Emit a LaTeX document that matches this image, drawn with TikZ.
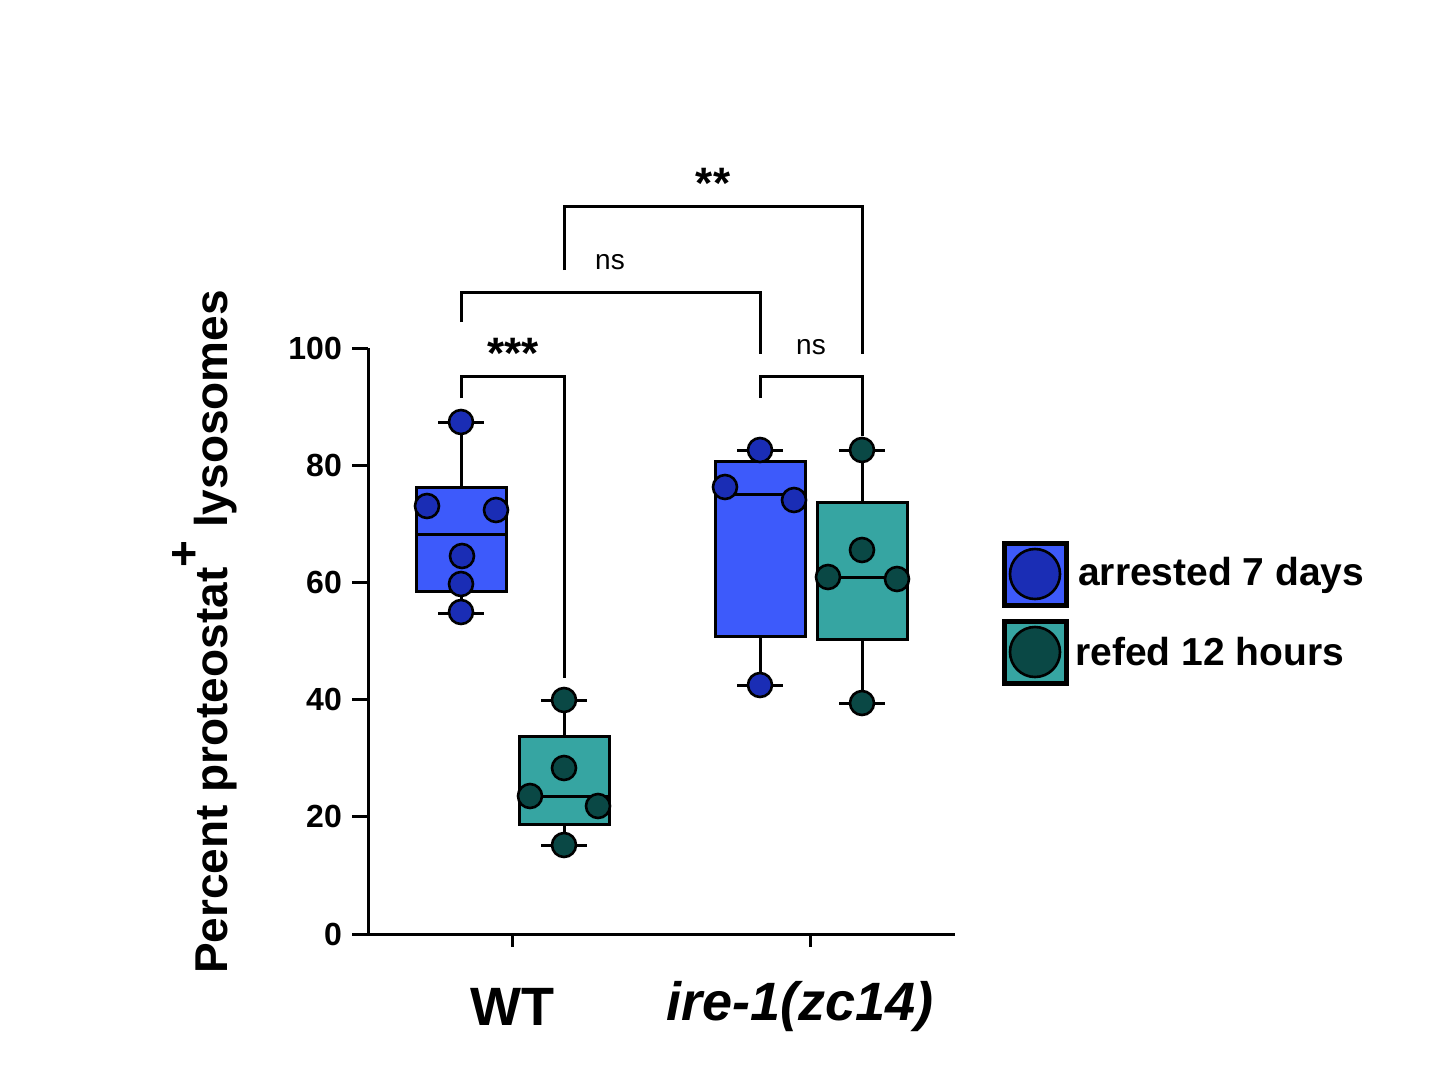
\documentclass[tikz,border=0pt]{standalone}
\usepackage{fontspec}
\setmainfont{Liberation Sans}
\begin{document}
\begin{tikzpicture}[x=0.5pt,y=-0.5pt,line width=1.5pt,
  boxA/.style={draw=black,fill=blueF},
  boxB/.style={draw=black,fill=tealF},
  dotA/.style={circle,draw=black,fill=blueD,minimum size=12pt,inner sep=0pt,line width=1.3pt},
  dotB/.style={circle,draw=black,fill=tealD,minimum size=12pt,inner sep=0pt,line width=1.3pt},
  tl/.style={font=\fontsize{16}{16}\selectfont\bfseries,anchor=east}]
\definecolor{blueF}{HTML}{3D5AFB}\definecolor{blueD}{HTML}{1A2DB5}
\definecolor{tealF}{HTML}{36A5A2}\definecolor{tealD}{HTML}{0A4845}
\useasboundingbox (0,0) rectangle (1433,1072);
% axes
\coordinate (o) at (368,934); \coordinate (ytop) at (368,348); \coordinate (xr) at (955,934);
\draw (ytop) -- (o) -- (xr);
\foreach \v in {0,20,40,60,80,100}{
  \draw (352,{934-5.86*\v}) -- (368,{934-5.86*\v});
  \node[tl] (t\v) at (350,{934-5.86*\v}) {\v};}
\draw (512,934) -- (512,947); \draw (810,934) -- (810,947);
\node[font=\fontsize{27}{27}\selectfont\bfseries] (wt) at (512,1007) {WT};
\node[font=\fontsize{27}{27}\selectfont\bfseries\itshape] (ire) at (800,1007) {ire-1(zc14)};
\node[rotate=90,font=\fontsize{23}{23}\selectfont\bfseries] (yl) at (205,632) {Percent proteostat\raisebox{0.6em}{+} lysosomes};
% boxes: center, q1, q3, med, wlo, whi, halfwidth
\newcommand{\mybox}[8]{%
  \draw (#1,#5) -- (#1,#6);
  \draw ({#1-23},#5) -- ({#1+23},#5); \draw ({#1-23},#6) -- ({#1+23},#6);
  \draw[#8] ({#1-45},#2) rectangle ({#1+45},#3);
  \draw ({#1-45},#4) -- ({#1+45},#4);}
\mybox{461}{591}{487}{534}{613}{422}{45}{boxA}
\mybox{564}{824}{736}{796}{845}{700}{45}{boxB}
\mybox{760}{636}{461}{494}{685}{450}{45}{boxA}
\mybox{862}{639}{502}{577}{703}{450}{45}{boxB}
\foreach \p [count=\i] in {(461,422),(427,506),(496,510),(462,556),(461,584),(461,612),(760,450),(725,487),(794,500),(760,685)}
  \node[dotA] (a\i) at \p {};
\foreach \p [count=\i] in {(564,700),(564,768),(530,796),(598,806),(564,845),(862,450),(862,550),(828,577),(897,579),(862,703)}
  \node[dotB] (b\i) at \p {};
% brackets
\draw (461,398) -- (461,376) -- (564,376) -- (564,678);
\node[font=\fontsize{22}{22}\selectfont\bfseries] (s1) at (513,353) {***};
\draw (461,322) -- (461,292) -- (760,292) -- (760,354);
\node[font=\fontsize{14}{14}\selectfont] (s2) at (610,262) {ns};
\draw (564,270) -- (564,206) -- (862,206) -- (862,354);
\node[font=\fontsize{22}{22}\selectfont\bfseries] (s3) at (713,183) {**};
\draw (760,398) -- (760,376) -- (862,376) -- (862,436);
\node[font=\fontsize{14}{14}\selectfont] (s4) at (811,347) {ns};
% legend
\draw[boxA,line width=2.5pt] (1004,543) rectangle (1066,605);
\node[dotA,minimum size=25pt] (la) at (1035,574) {};
\draw[boxB,line width=2.5pt] (1004,621) rectangle (1066,683);
\node[dotB,minimum size=25pt] (lb) at (1035,652) {};
\node[anchor=west,font=\fontsize{19.5}{19.5}\selectfont\bfseries] (lta) at (1070,575) {arrested 7 days};
\node[anchor=west,font=\fontsize{19.5}{19.5}\selectfont\bfseries] (ltb) at (1067,652) {refed 12 hours};
\end{tikzpicture}
\end{document}
